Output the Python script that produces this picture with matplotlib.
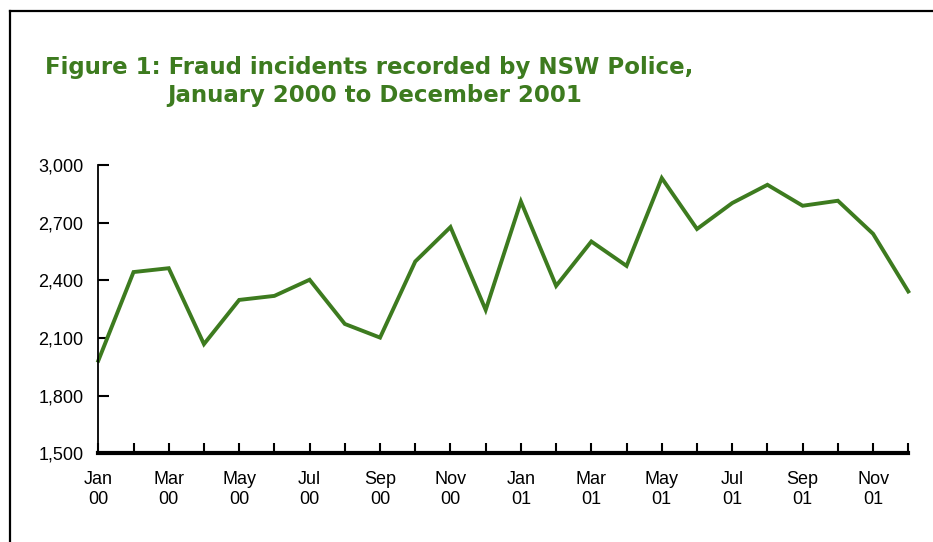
import matplotlib
matplotlib.use("Agg")
import matplotlib.pyplot as plt
from matplotlib.lines import Line2D
from matplotlib import font_manager

months = ["Jan", "Feb", "Mar", "Apr", "May", "Jun", "Jul", "Aug", "Sep", "Oct", "Nov", "Dec"]
years = ["00", "01"]
incidents = [1982, 2443, 2463, 2068, 2298, 2319, 2403, 2173, 2102, 2498, 2677, 2246,
             2810, 2371, 2602, 2475, 2932, 2667, 2802, 2897, 2788, 2814, 2642, 2342]
yticks = [1500, 1800, 2100, 2400, 2700, 3000]
title_line1 = "Figure 1: Fraud incidents recorded by NSW Police,"
title_line2 = "January 2000 to December 2001"

names = {f.name for f in font_manager.fontManager.ttflist}
tick_family = ['Liberation Sans Narrow', 'Liberation Sans', 'DejaVu Sans'] if 'Liberation Sans Narrow' in names else ['Liberation Sans', 'DejaVu Sans']
tick_size = 13

green = "#3d7b1f"
W, H = 933, 542
plt.rcParams['font.family'] = ['Liberation Sans', 'DejaVu Sans']
fig = plt.figure(figsize=(W / 100, H / 100), dpi=100)

# outer frame
fig.add_artist(Line2D([10 / W, 10 / W], [0, 1 - 11 / H], color="black", lw=1.6, transform=fig.transFigure))
fig.add_artist(Line2D([10 / W, 1], [1 - 11 / H, 1 - 11 / H], color="black", lw=1.6, transform=fig.transFigure))

tfam = ['DejaVu Sans']
fig.text(45 / W, 1 - 74 / H, title_line1, color=green, fontsize=16.5, fontweight="bold",
         family=tfam, ha="left", va="baseline")
fig.text(167 / W, 1 - 102 / H, title_line2, color=green, fontsize=16.5, fontweight="bold",
         family=tfam, ha="left", va="baseline")

ax = fig.add_axes([98.3 / W, 1 - 453.3 / H, (908.3 - 98.3) / W, (453.3 - 165) / H])
x = list(range(len(incidents)))
ax.plot(x, incidents, color=green, lw=2.8, solid_joinstyle="miter", clip_on=False)
ax.set_xlim(0, len(incidents) - 1)
ax.set_ylim(1500, 3000)
ax.set_yticks(yticks)
ax.set_yticklabels([f"{v:,}" for v in yticks])
labels = []
for i in x:
    m = months[i % 12]
    y = years[i // 12]
    labels.append(f"{m}\n{y}" if i % 2 == 0 else "")
ax.set_xticks(x)
ax.set_xticklabels(labels)
for s in ["top", "right"]:
    ax.spines[s].set_visible(False)
ax.spines["bottom"].set_linewidth(3)
ax.spines["left"].set_linewidth(1.3)
ax.tick_params(axis="x", direction="in", length=7, width=1.5, pad=12.5)
ax.tick_params(axis="y", direction="in", length=8, width=1.5, pad=10.8)
for t in ax.get_xticklabels() + ax.get_yticklabels():
    t.set_family(tick_family)
    t.set_fontsize(tick_size)
for t in ax.get_xticklabels():
    t.set_linespacing(1.25)

fig.savefig("out.png", dpi=100)
